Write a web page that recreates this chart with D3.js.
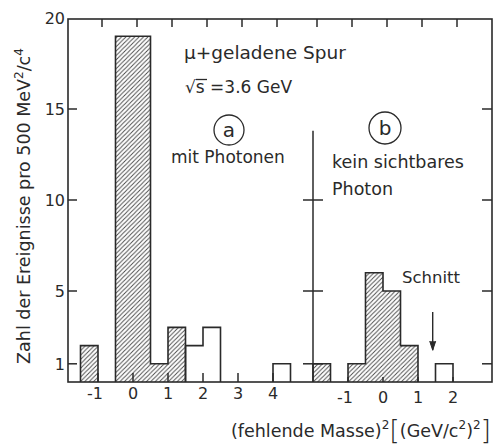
<!DOCTYPE html>
<html><head><meta charset="utf-8">
<script src="https://cdn.jsdelivr.net/npm/d3@7"></script>
<style>html,body{margin:0;padding:0;background:#fff;}svg{display:block;}</style>
</head><body><svg id="c" width="498" height="446"></svg>
<script>
// ---- data ----
const binLoA = [-1.5, -0.5, 0.0, 0.5, 1.0, 1.5, 2.0, 4.0];
const countA = [2, 19, 19, 1, 3, 2, 3, 1];
const hatchA = [true, true, true, true, true, false, false, false];
const binLoB = [-2.0, -1.0, -0.5, 0.0, 0.5, 1.5];
const countB = [1, 1, 6, 5, 2, 1];
const hatchB = [true, true, true, true, true, false];
const binWidth = 0.5;
const yTicks = [1, 5, 10, 15, 20];
const sepTicks = [1, 5, 10];
const rightTicks = [1, 5, 10, 15];
const xTicksA = [-1, 0, 1, 2, 3, 4];
const xTicksB = [-1, 0, 1, 2];
const topTicksA = [-1, 0, 1, 2, 3, 4];
const topTicksB = [-2, -1, 0, 1, 2];
const cutB = 1.42;
const cutArrow = [3.85, 1.75];
const sepTop = 13.8;

const svg = d3.select("#c");
const ink = "#2a2a2a";
const L = 68, R = 492, T = 19, B = 382;
const y = d3.scaleLinear().domain([0, 20]).range([B, 18]);
const xA = d3.scaleLinear().domain([-1, 4]).range([98, 273]);
const xB = d3.scaleLinear().domain([0, 2]).range([383, 453]);

// hatch pattern
const defs = svg.append("defs");
const hw = 4.4;
const pat = defs.append("pattern").attr("id", "hatch").attr("patternUnits", "userSpaceOnUse")
  .attr("width", hw).attr("height", hw);
pat.append("path").attr("d", `M-1,1 l2,-2 M0,${hw} l${hw},${-hw} M${hw - 1},${hw + 1} l2,-2`)
  .attr("stroke", "#444").attr("stroke-width", 0.9);

function groups(lo, cnt, hat) {
  const out = []; let cur = null;
  lo.forEach((l, i) => {
    const d = {lo: l, hi: l + binWidth, v: cnt[i], h: hat[i]};
    const last = cur ? cur[cur.length - 1] : null;
    if (last && Math.abs(last.hi - l) < 1e-9 && last.h === d.h) cur.push(d);
    else { cur = [d]; out.push(cur); }
  });
  return out;
}
function drawHist(lo, cnt, hat, x) {
  const data = lo.map((l, i) => ({lo: l, hi: l + binWidth, v: cnt[i], h: hat[i]}));
  svg.append("g").selectAll("rect").data(data.filter(d => d.h)).join("rect")
    .attr("x", d => x(d.lo)).attr("width", d => x(d.hi) - x(d.lo))
    .attr("y", d => y(d.v)).attr("height", d => y(0) - y(d.v))
    .attr("fill", "url(#hatch)");
  const line = d3.line().x(p => x(p[0])).y(p => y(p[1]));
  groups(lo, cnt, hat).forEach(g => {
    const pts = [[g[0].lo, 0]];
    g.forEach(d => { pts.push([d.lo, d.v]); pts.push([d.hi, d.v]); });
    pts.push([g[g.length - 1].hi, 0]);
    svg.append("path").attr("d", line(pts)).attr("fill", "none")
      .attr("stroke", ink).attr("stroke-width", 1.6).attr("stroke-linejoin", "miter");
  });
}
drawHist(binLoA, countA, hatchA, xA);
drawHist(binLoB, countB, hatchB, xB);

// frame
svg.append("rect").attr("x", L).attr("y", T).attr("width", R - L).attr("height", B - T)
  .attr("fill", "none").attr("stroke", ink).attr("stroke-width", 1.6);

const tk = svg.append("g").attr("stroke", ink).attr("stroke-width", 1.5);
yTicks.filter(v => v < 20).forEach(v => tk.append("line").attr("x1", L).attr("x2", L + 9).attr("y1", y(v)).attr("y2", y(v)));
rightTicks.forEach(v => tk.append("line").attr("x1", R).attr("x2", R - 10).attr("y1", y(v)).attr("y2", y(v)));
topTicksA.forEach(v => tk.append("line").attr("x1", xA(v) + 4).attr("x2", xA(v) + 4).attr("y1", T).attr("y2", T + 8));
topTicksB.forEach(v => tk.append("line").attr("x1", xB(v) + 4).attr("x2", xB(v) + 4).attr("y1", T).attr("y2", T + 8));
xTicksA.forEach(v => tk.append("line").attr("x1", xA(v)).attr("x2", xA(v)).attr("y1", B).attr("y2", B - 9));
xTicksB.forEach(v => tk.append("line").attr("x1", xB(v)).attr("x2", xB(v)).attr("y1", B).attr("y2", B - 5));
const sx = xB(-2);
tk.append("line").attr("x1", sx).attr("x2", sx).attr("y1", y(sepTop)).attr("y2", B);
sepTicks.forEach(v => tk.append("line").attr("x1", sx - 10).attr("x2", sx + 10).attr("y1", y(v)).attr("y2", y(v)));

// text
const font = "DejaVu Sans, sans-serif";
const txt = svg.append("g").attr("fill", ink).attr("font-family", font);
yTicks.forEach(v => txt.append("text").attr("x", 65).attr("y", y(v)).attr("dy", "0.36em")
  .attr("text-anchor", "end").attr("font-size", 16).text(v));
xTicksA.forEach(v => txt.append("text").attr("x", xA(v) - (v < 0 ? 3 : 0)).attr("y", 399)
  .attr("text-anchor", "middle").attr("font-size", 16).text(v < 0 ? "-" + (-v) : v));
xTicksB.forEach(v => txt.append("text").attr("x", xB(v) - (v < 0 ? 3 : 0)).attr("y", 403)
  .attr("text-anchor", "middle").attr("font-size", 16).text(v < 0 ? "-" + (-v) : v));

// y axis title
const yt = txt.append("text").attr("transform", "translate(30,206) rotate(-90)")
  .attr("text-anchor", "middle").attr("font-size", 17.5);
yt.append("tspan").text("Zahl der Ereignisse pro 500 MeV");
yt.append("tspan").attr("dy", -7).attr("font-size", 12).text("2");
yt.append("tspan").attr("dy", 7).text("/c");
yt.append("tspan").attr("dy", -7).attr("font-size", 12).text("4");

// x axis title
const xt = txt.append("text").attr("x", 231).attr("y", 437).attr("font-size", 17.5);
xt.append("tspan").text("(fehlende Masse)");
xt.append("tspan").attr("dy", -8).attr("font-size", 12).text("2");
xt.append("tspan").attr("dy", 10).attr("font-size", 27).attr("font-weight", 200).text("[");
xt.append("tspan").attr("dy", -2).text("(GeV/c");
xt.append("tspan").attr("dy", -8).attr("font-size", 12).text("2");
xt.append("tspan").attr("dy", 8).text(")");
xt.append("tspan").attr("dy", -8).attr("font-size", 12).text("2");
xt.append("tspan").attr("dy", 10).attr("font-size", 27).attr("font-weight", 200).text("]");

// annotations
txt.append("text").attr("x", 184).attr("y", 59).attr("font-size", 18.5).text("μ+geladene Spur");
txt.append("text").attr("x", 185).attr("y", 93).attr("font-size", 17).text("√s =3.6 GeV");
svg.append("line").attr("x1", 196).attr("x2", 207).attr("y1", 79.5).attr("y2", 79.5).attr("stroke", ink).attr("stroke-width", 1.3);
txt.append("text").attr("x", 171).attr("y", 163).attr("font-size", 17).text("mit Photonen");
txt.append("text").attr("x", 332).attr("y", 168).attr("font-size", 17.5).text("kein sichtbares");
txt.append("text").attr("x", 332).attr("y", 195).attr("font-size", 17.5).text("Photon");
txt.append("text").attr("x", 402).attr("y", 283).attr("font-size", 16.5).text("Schnitt");

svg.append("circle").attr("cx", 229).attr("cy", 130).attr("r", 15).attr("fill", "none").attr("stroke", ink).attr("stroke-width", 1.3);
svg.append("circle").attr("cx", 385).attr("cy", 128).attr("r", 16).attr("fill", "none").attr("stroke", ink).attr("stroke-width", 1.3);
txt.append("text").attr("x", 229).attr("y", 137).attr("text-anchor", "middle").attr("font-size", 20).text("a");
txt.append("text").attr("x", 385).attr("y", 135).attr("text-anchor", "middle").attr("font-size", 20).text("b");

// cut arrow
const ax = xB(cutB);
svg.append("line").attr("x1", ax).attr("x2", ax).attr("y1", y(cutArrow[0])).attr("y2", y(cutArrow[1]))
  .attr("stroke", ink).attr("stroke-width", 1.4);
svg.append("path").attr("d", d3.line()([[ax - 3, y(cutArrow[1]) - 9], [ax, y(cutArrow[1])], [ax + 3, y(cutArrow[1]) - 9]]))
  .attr("fill", ink).attr("stroke", ink).attr("stroke-width", 1);
</script></body></html>
